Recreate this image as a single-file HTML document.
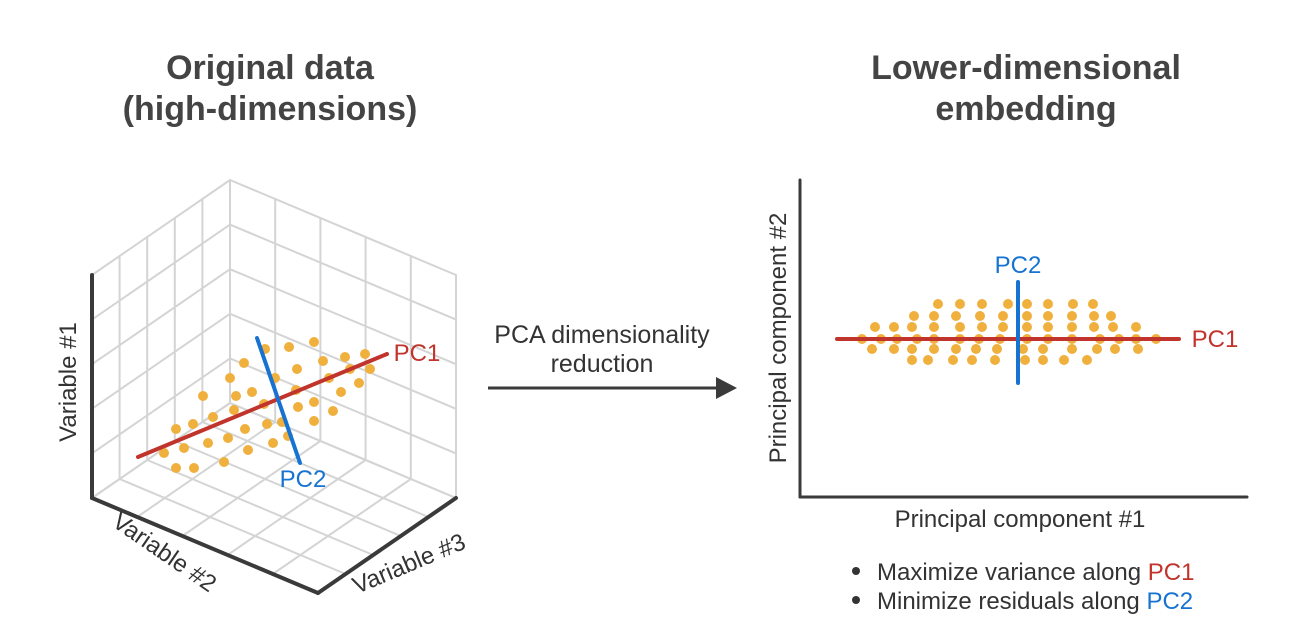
<!DOCTYPE html>
<html><head><meta charset="utf-8"><style>
html,body{margin:0;padding:0;background:#fff;}
svg{display:block;font-family:"Liberation Sans",sans-serif;}
</style></head><body>
<svg id="fig" width="1310" height="641" viewBox="0 0 1310 641">
  <g id="left"></g>
  <g id="right"></g>
  <text x="270" y="79" text-anchor="middle" font-size="34" font-weight="bold" fill="#444">Original data</text>
  <text x="270" y="120" text-anchor="middle" font-size="34" font-weight="bold" fill="#444">(high-dimensions)</text>
  <text x="1026" y="79" text-anchor="middle" font-size="34" font-weight="bold" fill="#444">Lower-dimensional</text>
  <text x="1026" y="120" text-anchor="middle" font-size="34" font-weight="bold" fill="#444">embedding</text>
  <text x="602" y="343" text-anchor="middle" font-size="25" fill="#333">PCA dimensionality</text>
  <text x="602" y="372" text-anchor="middle" font-size="25" fill="#333">reduction</text>
  <line x1="488" y1="388" x2="720" y2="388" stroke="#3a3a3a" stroke-width="3"/>
  <polygon points="737,388 716,377 716,399" fill="#3a3a3a"/>
  <circle cx="856" cy="571" r="4" fill="#333"/>
  <text x="877" y="580" font-size="24" fill="#333">Maximize variance along <tspan fill="#c0342c">PC1</tspan></text>
  <circle cx="856" cy="600" r="4" fill="#333"/>
  <text x="877" y="609" font-size="24" fill="#333">Minimize residuals along <tspan fill="#1673d1">PC2</tspan></text>
</svg>
<script>
// Left 3D scatter points (screen positions)
const leftX = [265,289,314,345,365,244,323,297,350,370,230,275,329,359,203,236,252,296,341,264,314,234,298,333,213,193,176,245,267,282,314,228,208,184,273,288,164,248,176,194,224];
const leftY = [349,347,342,357,354,363,361,369,369,369,378,378,378,383,396,396,392,390,392,404,402,410,407,411,417,424,429,429,424,422,421,438,443,448,443,436,453,450,468,468,462];
// Right embedding: rows (PC2 value) and PC1 positions per row
const rowY = [304,316,327,339,349,360];
const rowXs = [
  [938,960,982,1008,1027,1048,1073,1093],
  [914,934,956,980,1003,1027,1048,1072,1094,1111],
  [875,894,912,934,960,982,1003,1027,1048,1072,1094,1113,1136],
  [862,881,897,917,934,960,979,1000,1027,1048,1072,1100,1119,1136,1156],
  [872,894,912,934,956,976,997,1023,1043,1072,1097,1115,1138],
  [912,928,953,972,995,1025,1043,1064,1087]
];
const NS='http://www.w3.org/2000/svg';
function mk(parent,tag,attrs){const e=document.createElementNS(NS,tag);for(const k in attrs)e.setAttribute(k,attrs[k]);parent.appendChild(e);return e;}
const L=document.getElementById('left'), Rg=document.getElementById('right');
const B=[230,403], LV=[-138,95], RV=[226,95], UV=[0,-223], N=5;
function P(a,b,c){return [B[0]+LV[0]*a+RV[0]*b+UV[0]*c, B[1]+LV[1]*a+RV[1]*b+UV[1]*c];}
function ln(g,p,q,st,w,name){const e=mk(g,'line',{x1:p[0],y1:p[1],x2:q[0],y2:q[1],stroke:st,'stroke-width':w,'stroke-linecap':'round'});

return e;}
const gc='#d4d4d4';
for(let i=0;i<=N;i++){const t=i/N;
  ln(L,P(t,0,0),P(t,0,1),gc,2,'grid-line');
  ln(L,P(0,0,t),P(1,0,t),gc,2,'grid-line');
  ln(L,P(0,t,0),P(0,t,1),gc,2,'grid-line');
  ln(L,P(0,0,t),P(0,1,t),gc,2,'grid-line');
  ln(L,P(t,0,0),P(t,1,0),gc,2,'grid-line');
  ln(L,P(0,t,0),P(1,t,0),gc,2,'grid-line');
}
ln(L,P(1,0,1),P(1,0,0),'#3a3a3a',4,'axis-variable-1');
ln(L,P(1,0,0),P(1,1,0),'#3a3a3a',4,'axis-variable-2');
ln(L,P(1,1,0),P(0,1,0),'#3a3a3a',4,'axis-variable-3');
for(let i=0;i<leftX.length;i++){const c=mk(L,'circle',{cx:leftX[i],cy:leftY[i],r:5,fill:'#f0b03e'});

}
ln(L,[138,457],[387,354],'#c0342c',4,'pc1-line-3d');
ln(L,[257,338],[300,463],'#1673d1',4,'pc2-line-3d');
function tx(g,x,y,s,o,name){const e=mk(g,'text',Object.assign({x:x,y:y,'font-size':24,fill:'#333','text-anchor':'middle'},o||{}));e.textContent=s;

return e;}
tx(L,417,361,'PC1',{fill:'#c0342c'},'pc1-label-3d');
tx(L,303,487,'PC2',{fill:'#1673d1'},'pc2-label-3d');
tx(L,0,0,'Variable #1',{transform:'translate(76,382) rotate(-90)'},'variable-1-label');
tx(L,0,0,'Variable #2',{transform:'translate(160,559) rotate(34.5)'},'variable-2-label');
tx(L,0,0,'Variable #3',{transform:'translate(412,571) rotate(-22.8)'},'variable-3-label');
ln(Rg,[800,180],[800,497],'#3a3a3a',3,'y-axis');
ln(Rg,[800,497],[1247,497],'#3a3a3a',3,'x-axis');
tx(Rg,0,0,'Principal component #2',{transform:'translate(786,338) rotate(-90)'},'y-axis-title');
tx(Rg,1020,527,'Principal component #1',{},'x-axis-title');
for(let r=0;r<rowY.length;r++)for(const x of rowXs[r]){const c=mk(Rg,'circle',{cx:x,cy:rowY[r],r:5,fill:'#f0b03e'});

}
ln(Rg,[837,339],[1179,339],'#c0342c',4,'pc1-line');
ln(Rg,[1018,282],[1018,383],'#1673d1',4,'pc2-line');
tx(Rg,1215,347,'PC1',{fill:'#c0342c'},'pc1-label');
tx(Rg,1018,273,'PC2',{fill:'#1673d1'},'pc2-label');
</script>
</body></html>
